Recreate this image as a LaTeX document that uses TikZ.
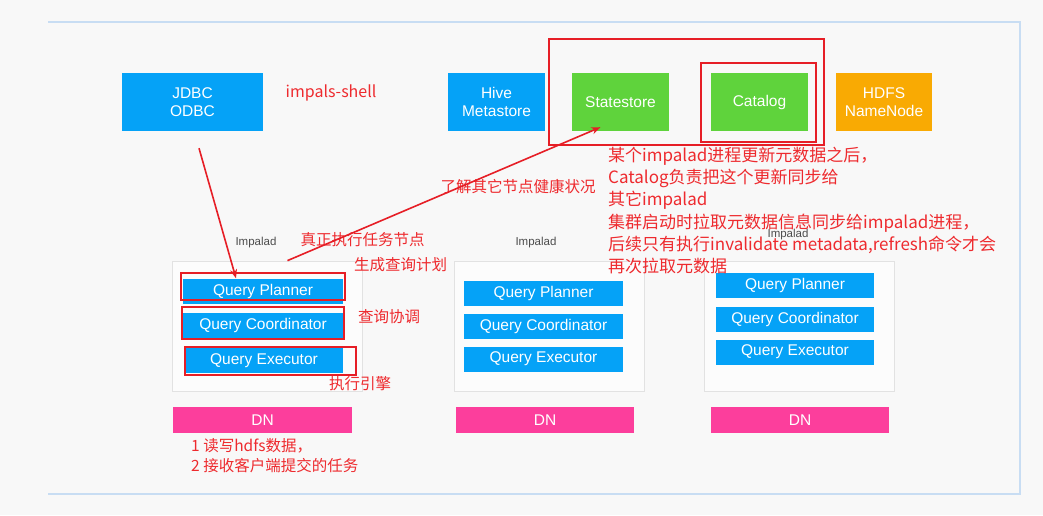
\documentclass[tikz,border=0pt]{standalone}
\usepackage{fontspec}
\setmainfont{Liberation Sans}
\newfontfamily\cjk{Noto Sans CJK SC}
\usepackage{xcolor}
\usetikzlibrary{positioning, arrows.meta, calc}
\definecolor{bgpaper}{HTML}{F8F8F8}
\definecolor{frameblue}{HTML}{C8DDF3}
\definecolor{boxblue}{HTML}{05A2F7}
\definecolor{boxgreen}{HTML}{5FD33C}
\definecolor{boxorange}{HTML}{F9AA03}
\definecolor{boxpink}{HTML}{FC3E9C}
\definecolor{markred}{HTML}{E61E26}
\definecolor{notered}{HTML}{EE2A2E}
\definecolor{groupline}{HTML}{E2E2E2}

\begin{document}
\begin{tikzpicture}[x=1pt, y=-1pt,
    svc/.style={text=white, inner sep=0pt, align=center, font=\fontsize{15.5}{18}\selectfont},
    qbox/.style={svc, fill=boxblue, minimum width=160pt, minimum height=25pt},
    dnbox/.style={svc, fill=boxpink, minimum width=178pt, minimum height=26pt},
    impalad/.style={draw=groupline, fill=white!60!bgpaper, line width=0.8pt, minimum width=190pt, minimum height=130pt, inner sep=0pt},
    grouplabel/.style={text=black!70, font=\fontsize{11.5}{13}\selectfont, inner sep=0pt},
    redframe/.style={draw=markred, line width=2.6pt, inner sep=0pt},
    note/.style={text=notered, inner sep=0pt, font=\cjk\fontsize{15.5}{20}\selectfont},
    redarrow/.style={draw=markred, line width=1.6pt, -{Stealth[length=9pt, width=7pt]}}]

  \fill[bgpaper] (0,0) rectangle (1043,515);
  \useasboundingbox (0,0) rectangle (1043,515);
  \draw[frameblue, line width=1.6pt] (48,22) -- (1020,22) -- (1020,494) -- (48,494);

  % top row of services
  \node[svc, fill=boxblue, minimum width=141pt, minimum height=58pt] (jdbc) at (192.5,102) {JDBC\\ODBC};
  \node[svc, fill=boxblue, minimum width=97pt, minimum height=58pt] (hive) at (496.5,102) {Hive\\Metastore};
  \node[svc, fill=boxgreen, minimum width=97pt, minimum height=58pt] (ss) at (620.5,102) {Statestore};
  \node[svc, fill=boxgreen, minimum width=97pt, minimum height=58pt] (cat) at (759.5,102) {Catalog};
  \node[svc, fill=boxorange, minimum width=96pt, minimum height=58pt] (nn) at (884,102) {HDFS\\NameNode};
  \node[redframe, minimum width=275pt, minimum height=106pt] (ssgroup) at (686.5,92) {};
  \node[redframe, minimum width=115pt, minimum height=79pt] (catmark) at (758.5,102.5) {};
  \node[note, font=\cjk\fontsize{16}{20}\selectfont] (shell) at (331,93) {impals-shell};

  % impalad groups
  \node[impalad] (g1) at (267.5,326) {};
  \node[impalad] (g2) at (549,326) {};
  \node[impalad] (g3) at (799.5,326) {};
  \node[grouplabel] (g1lab) at (256,243) {Impalad};
  \node[grouplabel] (g2lab) at (536,243) {Impalad};
  \node[grouplabel] (g3lab) at (788,235) {Impalad};

  \node[qbox] (qp1) at (263,291) {Query Planner};
  \node[qbox] (qc1) at (263,325.5) {Query Coordinator};
  \node[qbox, minimum width=158pt] (qe1) at (264,360.5) {Query Executor};
  \node[qbox, minimum width=159pt] (qp2) at (543.5,293) {Query Planner};
  \node[qbox, minimum width=159pt] (qc2) at (543.5,326) {Query Coordinator};
  \node[qbox, minimum width=159pt] (qe2) at (543.5,359) {Query Executor};
  \node[qbox, minimum width=158pt] (qp3) at (795,285) {Query Planner};
  \node[qbox, minimum width=158pt] (qc3) at (795,319) {Query Coordinator};
  \node[qbox, minimum width=158pt] (qe3) at (795,352) {Query Executor};

  \node[redframe, minimum width=164pt, minimum height=27pt] (qp1mark) at (263,286.5) {};
  \node[redframe, minimum width=162pt, minimum height=32pt] (qc1mark) at (263,323) {};
  \node[redframe, minimum width=171pt, minimum height=28pt] (qe1mark) at (270.5,361) {};

  \node[dnbox, minimum width=179pt] (dn1) at (262.5,420) {DN};
  \node[dnbox] (dn2) at (545,420) {DN};
  \node[dnbox] (dn3) at (800,420) {DN};

  % red notes
  \node[note] (health) at (518,187) {了解其它节点健康状况};
  \node[note] (worker) at (362.5,240) {真正执行任务节点};
  \node[note] (plan) at (400.5,265) {生成查询计划};
  \node[note] (coord) at (389,317) {查询协调};
  \node[note] (engine) at (360,384) {执行引擎};
  \node[note, anchor=north west, align=left] (dnnote) at (191,438) {1 读写hdfs数据，\\2 接收客户端提交的任务};
  \node[note, anchor=north west, align=left, font=\cjk\fontsize{17}{22.2}\selectfont] (catnote) at (608,147) {%
    某个impalad进程更新元数据之后，\\
    Catalog负责把这个更新同步给\\
    其它impalad\\
    集群启动时拉取元数据信息同步给impalad进程，\\
    后续只有执行invalidate metadata,refresh命令才会\\
    再次拉取元数据};

  % arrows
  \draw[redarrow] ([xshift=6.5pt, yshift=-17pt]jdbc.south) -- ([xshift=-27pt]qp1.north);
  \draw[redarrow] ([xshift=20pt]g1.north) -- ([xshift=-20pt, yshift=4pt]ss.south);
\end{tikzpicture}
\end{document}
